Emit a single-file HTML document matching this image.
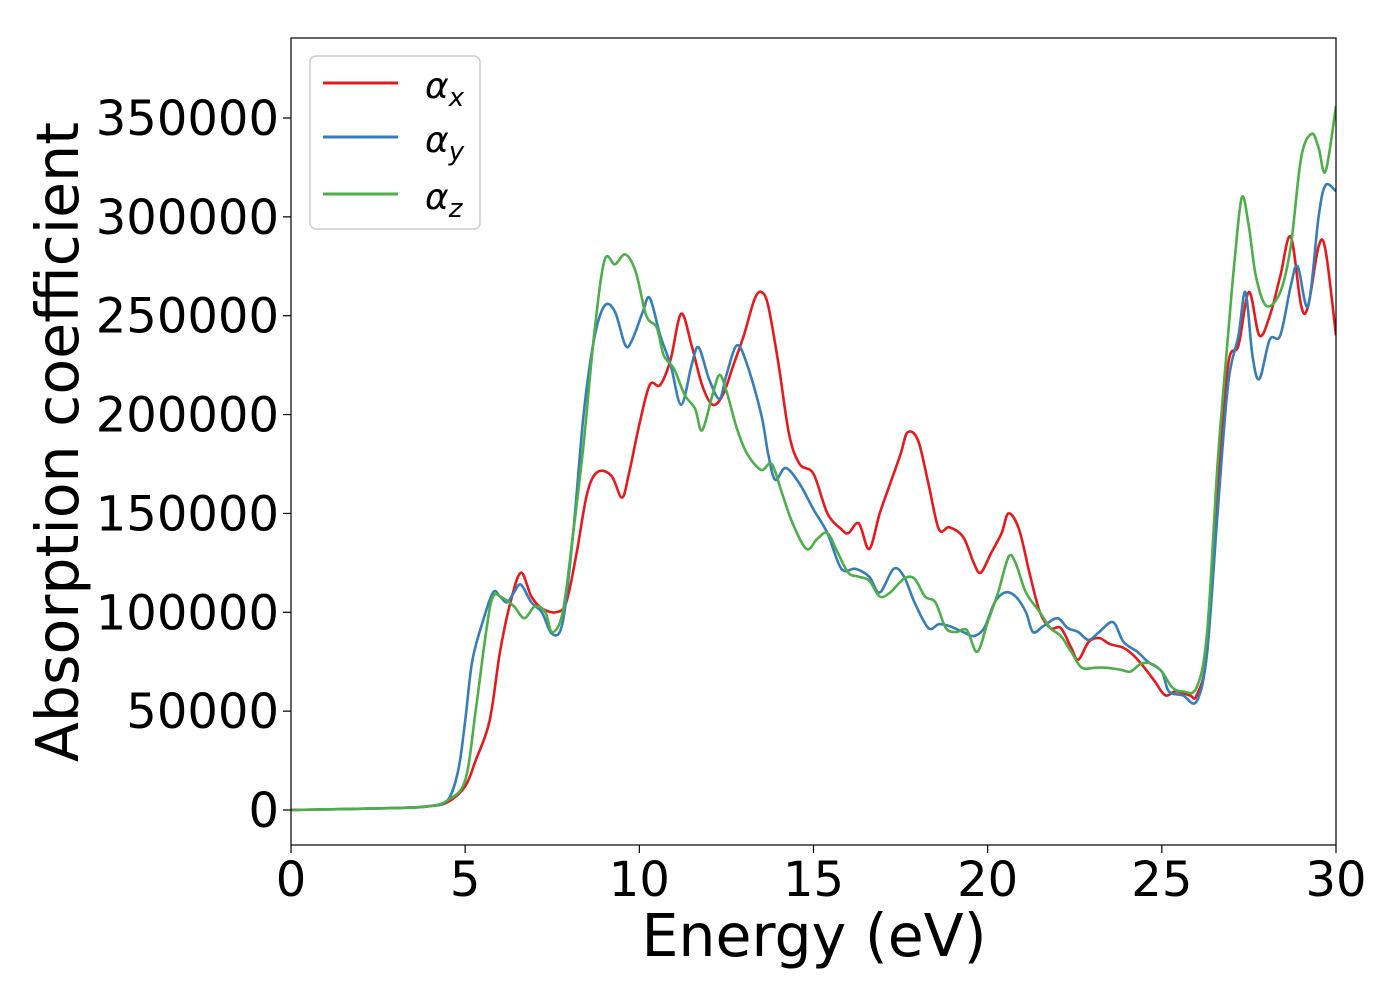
<!DOCTYPE html>
<html><head><meta charset="utf-8"><style>
body{margin:0;background:#fff}
svg text{font-family:"DejaVu Sans","Liberation Sans",sans-serif;fill:#000}
</style></head><body>
<svg id="chart" width="1400" height="1000" xmlns="http://www.w3.org/2000/svg">
<rect x="0" y="0" width="1400" height="1000" fill="#fff"/>
<g id="plot"></g>
<g id="axes"></g>
<g id="legend">
<rect x="310" y="56" width="170" height="173" rx="6" fill="#fff" fill-opacity="0.8" stroke="#ccc" stroke-width="1.5"/>
<line x1="323" y1="83" x2="398" y2="83" stroke="#e41a1c" stroke-width="3"/>
<text x="425" y="98" font-size="36" font-style="italic">α<tspan font-size="26" dy="8">x</tspan></text>
<line x1="323" y1="137" x2="398" y2="137" stroke="#377eb8" stroke-width="3"/>
<text x="425" y="152" font-size="36" font-style="italic">α<tspan font-size="26" dy="8">y</tspan></text>
<line x1="323" y1="194" x2="398" y2="194" stroke="#4daf4a" stroke-width="3"/>
<text x="425" y="209" font-size="36" font-style="italic">α<tspan font-size="26" dy="8">z</tspan></text>
</g>
</svg>
<script>
const xTicks=[0,5,10,15,20,25,30];
const yTicks=[0,50000,100000,150000,200000,250000,300000,350000];
const alphaXx=[0,3,4,4.5,5,5.3,5.7,6,6.3,6.6,6.9,7.2,7.6,7.9,8.2,8.5,8.8,9.2,9.5,9.7,10,10.3,10.6,10.9,11.2,11.5,11.8,12.1,12.4,12.7,13,13.3,13.5,13.7,14,14.3,14.6,15,15.4,15.8,16,16.3,16.6,16.9,17.2,17.5,17.7,18,18.3,18.6,18.9,19.3,19.6,19.8,20.1,20.4,20.6,20.9,21.2,21.5,21.8,22.1,22.4,22.6,22.9,23.2,23.5,23.9,24.2,24.5,24.8,25.1,25.4,25.8,26,26.3,26.6,26.9,27.2,27.5,27.8,28.1,28.4,28.7,29,29.2,29.5,29.7,30];
const alphaXy=[0,1,2,4,12,25,45,80,105,120,108,102,100,105,130,160,171,169,158,170,195,215,215,228,251,235,215,205,210,225,240,258,262,255,225,190,175,170,150,142,140,145,132,150,165,180,191,187,165,142,143,138,125,120,130,140,150,142,120,100,92,92,82,76,85,87,84,82,78,72,65,58,60,58,58,80,160,225,235,262,240,250,270,290,255,255,285,283,240];
const alphaYx=[0,3,4,4.5,4.8,5,5.2,5.5,5.8,6,6.2,6.4,6.6,6.9,7.2,7.5,7.8,8.1,8.4,8.7,9,9.3,9.6,9.8,10.1,10.3,10.6,10.9,11.2,11.5,11.7,12,12.3,12.5,12.8,13.1,13.5,13.7,13.9,14.2,14.6,15,15.4,15.8,16.2,16.6,16.9,17.3,17.6,17.9,18.3,18.6,18.9,19.3,19.6,19.9,20.2,20.5,20.8,21.1,21.3,21.6,22,22.3,22.6,22.9,23.2,23.6,23.9,24.3,24.6,25,25.2,25.6,26,26.3,26.6,26.9,27.2,27.4,27.6,27.8,28.1,28.4,28.7,28.9,29.2,29.5,29.7,30];
const alphaYy=[0,1,2,5,20,45,75,95,110,108,105,110,114,105,100,89,95,140,200,238,255,252,235,238,252,259,240,225,205,225,234,218,208,220,235,225,200,180,167,173,165,152,140,122,122,118,110,122,118,105,92,94,93,90,88,92,105,110,108,100,90,93,97,92,90,86,90,95,85,80,75,70,60,58,55,80,150,215,240,262,230,218,238,240,265,275,255,300,316,313];
const alphaZx=[0,3,4,4.5,5,5.3,5.6,5.8,6.1,6.4,6.7,7,7.3,7.5,7.8,8.1,8.4,8.7,9,9.3,9.6,9.9,10.2,10.5,10.7,11,11.3,11.6,11.8,12.1,12.3,12.5,12.8,13.1,13.5,13.8,14.1,14.4,14.8,15.1,15.4,15.7,16,16.3,16.6,16.9,17.2,17.6,17.9,18.2,18.5,18.8,19.1,19.4,19.7,20,20.3,20.6,20.8,21.1,21.5,21.8,22.1,22.4,22.7,23.1,23.4,23.8,24.1,24.4,24.7,25,25.3,25.6,26,26.3,26.6,26.9,27.1,27.3,27.5,27.7,28,28.4,28.7,29,29.3,29.5,29.7,30];
const alphaZy=[0,1,2,5,15,50,90,108,107,103,97,103,100,90,100,140,185,240,278,276,281,272,250,244,230,223,210,203,192,210,220,212,193,180,172,175,160,145,132,137,140,130,120,118,116,108,110,117,117,108,105,92,90,91,80,95,110,128,125,110,100,92,88,80,72,72,72,71,70,74,74,70,62,60,62,90,175,240,280,310,295,270,255,262,285,330,342,335,323,356];
const X0=291,X1=1336,Y0=810,PER=98.857/50000,TOP=38,BOT=845;
const sx=v=>X0+(v/30)*(X1-X0);
const sy=v=>Y0-v*PER;
const NS="http://www.w3.org/2000/svg";
const svg=document.getElementById('chart');
const plot=document.getElementById('plot');
const axes=document.getElementById('axes');
function mk(tag,attrs,parent){const e=document.createElementNS(NS,tag);for(const k in attrs)e.setAttribute(k,attrs[k]);parent.appendChild(e);return e;}
function path(xa,ya){const p=xa.map((x,i)=>[sx(x),sy(ya[i]*1000)]);let d=`M${p[0][0]},${p[0][1]}`;
for(let i=0;i<p.length-1;i++){const a=p[Math.max(0,i-1)],b=p[i],c=p[i+1],e=p[Math.min(p.length-1,i+2)];
d+=` C${b[0]+(c[0]-a[0])/6},${b[1]+(c[1]-a[1])/6} ${c[0]-(e[0]-b[0])/6},${c[1]-(e[1]-b[1])/6} ${c[0]},${c[1]}`;}return d;}
const cp=mk('clipPath',{id:'cp'},svg);mk('rect',{x:X0,y:TOP,width:X1-X0,height:BOT-TOP},cp);
plot.setAttribute('clip-path','url(#cp)');
const series=[[alphaXx,alphaXy,'#e41a1c','series-alpha-x'],[alphaYx,alphaYy,'#377eb8','series-alpha-y'],[alphaZx,alphaZy,'#4daf4a','series-alpha-z']];
series.forEach(s=>{const e=mk('path',{d:path(s[0],s[1]),fill:'none',stroke:s[2],'stroke-width':2.6},plot);

});
const fr=mk('rect',{x:X0,y:TOP,width:X1-X0,height:BOT-TOP,fill:'none',stroke:'#000','stroke-width':1.2},axes);


xTicks.forEach(t=>{const x=sx(t);mk('line',{x1:x,y1:BOT,x2:x,y2:BOT+8,stroke:'#000','stroke-width':1.2},axes);
const l=mk('text',{x:x,y:BOT+51,'font-size':48,'text-anchor':'middle'},axes);l.textContent=t;

});
yTicks.forEach(t=>{const y=sy(t);mk('line',{x1:X0-8,y1:y,x2:X0,y2:y,stroke:'#000','stroke-width':1.2},axes);
const l=mk('text',{x:X0-12,y:y+17,'font-size':48,'text-anchor':'end'},axes);l.textContent=t;

});
const xt=mk('text',{x:814,y:956,'font-size':58.5,'text-anchor':'middle'},axes);xt.textContent='Energy (eV)';


const yt=mk('text',{x:0,y:0,'font-size':58.5,'text-anchor':'middle',transform:`translate(78,442) rotate(-90)`},axes);yt.textContent='Absorption coefficient';


svg.appendChild(document.getElementById('legend'));
</script>
</body></html>
